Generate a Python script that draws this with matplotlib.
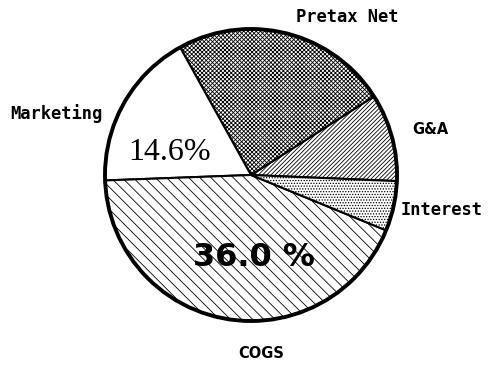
import matplotlib
matplotlib.use('Agg')
import matplotlib.pyplot as plt
from matplotlib.patches import Circle

# income statement breakdown, counterclockwise from the right
labels = ['G&A', 'Pretax Net', 'Marketing', 'COGS', 'Interest']
values = [8.1, 20.0, 14.6, 36.0, 4.6]
hatches = ['////////', 'xxxxxxxx', '', '\\\\\\', '......']

plt.rcParams['hatch.linewidth'] = 0.6
plt.rcParams['hatch.color'] = 'black'

W, H = 490, 369
cx, cy, r = 251, 175, 146          # pie centre and radius, pixels

fig = plt.figure(figsize=(W / 100, H / 100), dpi=100)
ax = fig.add_axes([0, 0, 1, 1])

def px(x, y):
    return (x - cx) / r, (cy - y) / r

wedges, _ = ax.pie(values, startangle=-2.4, counterclock=True, radius=1,
                   wedgeprops=dict(facecolor='white', edgecolor='black', linewidth=1.5))
for w, h in zip(wedges, hatches):
    w.set_hatch(h)

ax.add_patch(Circle((0, 0), 1, fill=False, edgecolor='black', linewidth=2.8, zorder=5))

ax.set_xlim(-cx / r, (W - cx) / r)
ax.set_ylim((cy - H) / r, cy / r)
ax.set_aspect('equal')
ax.axis('off')

mono = dict(family='DejaVu Sans Mono', fontweight='bold', fontsize=12.3,
            ha='center', va='center')
ax.text(*px(347, 17), 'Pretax Net', **mono)
ax.text(*px(56, 114), 'Marketing', **mono)
ax.text(*px(442, 210), 'Interest', **mono)

cond = dict(family='DejaVu Sans', fontweight='bold', fontsize=10.5,
            ha='center', va='center')
ax.text(*px(430, 130), 'G&A', **cond)
ax.text(*px(261, 354), 'COGS', **cond)

ax.text(*px(170, 153), '14.6%', family='Liberation Serif', fontsize=23,
        ha='center', va='center', zorder=6)
ax.text(*px(254, 257), '36.0 %', family='DejaVu Sans', fontweight='bold',
        fontsize=23, ha='center', va='center', zorder=6)

fig.savefig('out.png', dpi=100)
